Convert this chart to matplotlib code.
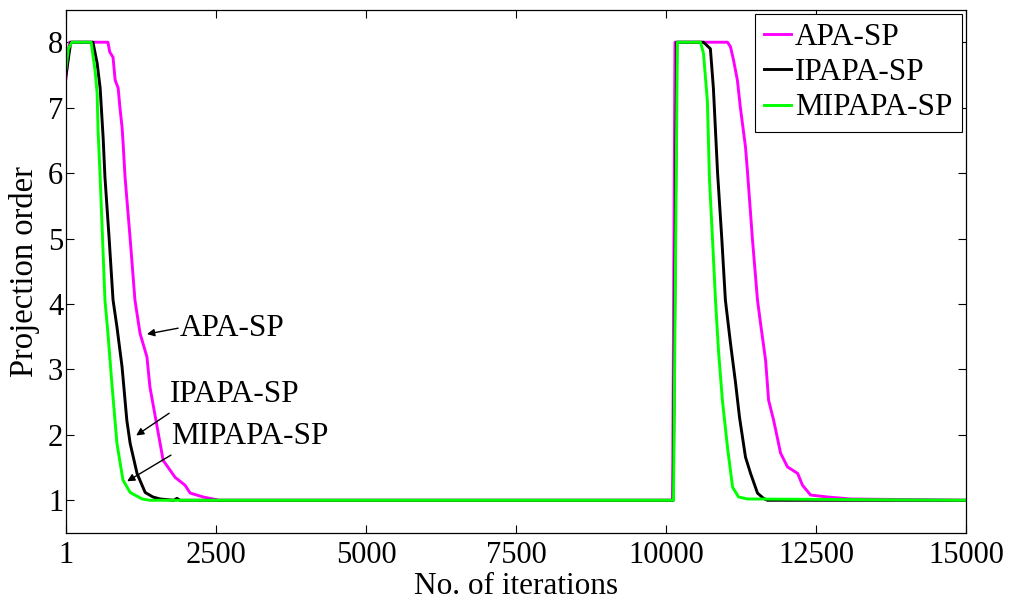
import matplotlib
matplotlib.use("Agg")
import matplotlib.pyplot as plt

plt.rcParams['font.family'] = ['Liberation Serif', 'DejaVu Serif']

# ---- data ----
labels = ["APA-SP", "IPAPA-SP", "MIPAPA-SP"]
colors = ["#ff00ff", "#000000", "#00ff00"]

apa_x = [1, 60, 700, 730, 785, 820, 870, 900, 935, 950, 985, 1070, 1150, 1235, 1350,
         1400, 1520, 1620, 1820, 1985, 2070, 2290, 2450, 2550, 10110, 10150, 11025,
         11075, 11125, 11190, 11240, 11325, 11360, 11440, 11525, 11575, 11660, 11710,
         11795, 11910, 12025, 12195, 12275, 12410, 12695, 13080, 15000]
apa_y = [7.45, 8, 8, 7.85, 7.77, 7.42, 7.3, 7.0, 6.7, 6.5, 5.94, 5.0, 4.06, 3.55, 3.19,
         2.73, 2.12, 1.61, 1.35, 1.23, 1.11, 1.05, 1.02, 1, 1, 8, 8,
         7.93, 7.73, 7.42, 7.0, 6.4, 6.0, 5.0, 4.06, 3.71, 3.14, 2.53,
         2.22, 1.72, 1.51, 1.41, 1.23, 1.08, 1.05, 1.02, 1]

ipapa_x = [1, 80, 450, 520, 570, 620, 650, 720, 785, 850, 935, 1015, 1070, 1185, 1320,
           1450, 1570, 1800, 1850, 1900, 10120, 10180, 10625, 10740, 10790, 10860,
           10930, 10990, 11075, 11160, 11225, 11325, 11410, 11525, 11625, 11690, 15000]
ipapa_y = [7.5, 8, 8, 7.68, 7.3, 6.54, 5.94, 5.0, 4.06, 3.65, 3.04, 2.22, 1.87, 1.41, 1.12,
           1.05, 1.02, 1.0, 1.03, 1.0, 1, 8, 8, 7.9, 7.3, 6.0,
           5.0, 4.06, 3.4, 2.79, 2.27, 1.66, 1.41, 1.11, 1.03, 1, 1]

mipapa_x = [1, 40, 100, 420, 485, 520, 535, 570, 610, 650, 700, 765, 850, 950, 1070,
            1270, 1400, 10125, 10190, 10575, 10625, 10690, 10725, 10775, 10825, 10875,
            10940, 11025, 11110, 11210, 11360, 15000]
mipapa_y = [7.6, 7.9, 8, 8, 7.57, 7.22, 6.66, 5.94, 5.0, 4.06, 3.55, 2.79, 1.87, 1.31, 1.12,
            1.02, 1, 1, 8, 8, 7.83, 7.1, 5.9, 5.0, 4.06, 3.29,
            2.53, 1.81, 1.2, 1.05, 1.02, 1]

xticks = [1, 2500, 5000, 7500, 10000, 12500, 15000]
yticks = [1, 2, 3, 4, 5, 6, 7, 8]

FS = 22.5

# ---- figure ----
fig = plt.figure(figsize=(10.11, 6.03), dpi=100)
ax = fig.add_axes([66 / 1011, 1 - 533 / 603, (966 - 66) / 1011, (533 - 9.5) / 603])

series = [(apa_x, apa_y), (ipapa_x, ipapa_y), (mipapa_x, mipapa_y)]
for (xs, ys), c, lab in zip(series, colors, labels):
    ax.plot(xs, ys, color=c, lw=2.1, label=lab)

ax.set_xlim(1, 15000)
ax.set_ylim(0.5, 8.5)
ax.set_xticks(xticks)
ax.set_xticklabels([str(t) for t in xticks])
ax.set_yticks(yticks)
ax.tick_params(direction='in', length=6, width=0.8, top=True, right=True,
               labelsize=22)
ax.tick_params(axis='y', pad=2)
ax.tick_params(axis='x', pad=6)
for s in ax.spines.values():
    s.set_linewidth(0.9)

ax.set_xlabel("No. of iterations", fontsize=FS, labelpad=1)
ax.set_ylabel("Projection order", fontsize=23.5, labelpad=6)

leg = ax.legend(loc='upper right', fontsize=FS, borderaxespad=0.13, fancybox=False,
                framealpha=1, edgecolor='black', handlelength=0.87,
                handletextpad=0.13, labelspacing=0.2, borderpad=0.3)
leg.get_frame().set_linewidth(0.8)

# ---- annotations ----
arrow = dict(arrowstyle='-|>', color='black', lw=1.0, mutation_scale=11,
             shrinkA=0, shrinkB=0)
ax.annotate('', xy=(1350, 3.54), xytext=(1870, 3.63), arrowprops=arrow)
ax.text(1900, 3.63, "APA-SP", fontsize=FS, ha='left', va='center')
ax.annotate('', xy=(1170, 1.99), xytext=(1720, 2.33), arrowprops=arrow)
ax.text(1740, 2.62, "IPAPA-SP", fontsize=FS, ha='left', va='center')
ax.annotate('', xy=(1020, 1.29), xytext=(1750, 1.69), arrowprops=arrow)
ax.text(1760, 1.97, "MIPAPA-SP", fontsize=FS, ha='left', va='center')

fig.savefig("out.png", dpi=100)
